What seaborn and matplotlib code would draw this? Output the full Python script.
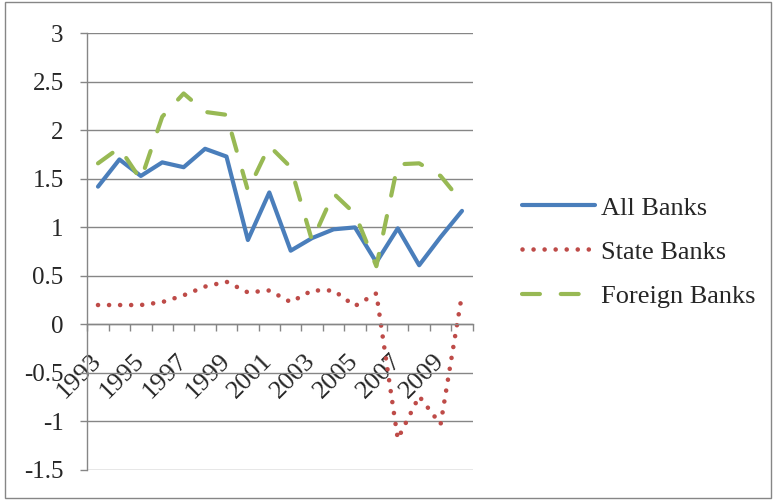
import numpy as np
import pandas as pd
import matplotlib
matplotlib.use("Agg")
import matplotlib.pyplot as plt
import seaborn as sns
from matplotlib.patches import Rectangle

# Series values by year
years = list(range(1993, 2011))
all_banks = [1.42, 1.70, 1.53, 1.67, 1.62, 1.81, 1.73, 0.87, 1.36, 0.76,
             0.89, 0.98, 1.00, 0.64, 0.99, 0.61, 0.90, 1.17]
state_banks = [0.20, 0.20, 0.20, 0.23, 0.30, 0.39, 0.44, 0.33, 0.35, 0.23,
               0.35, 0.35, 0.19, 0.32, -1.18, -0.74, -1.03, 0.31]
foreign_banks = [1.66, 1.82, 1.49, 2.14, 2.38, 2.19, 2.16, 1.38, 1.84, 1.62,
                 0.86, 1.35, 1.14, 0.60, 1.65, 1.66, 1.53, 1.26]
series_names = ["All Banks", "State Banks", "Foreign Banks"]
y_ticks = [-1.5, -1, -0.5, 0, 0.5, 1, 1.5, 2, 2.5, 3]
y_tick_labels = ["-1.5", "-1", "-0.5", "0", "0.5", "1", "1.5", "2", "2.5", "3"]
year_labels = [str(y) if (y - 1993) % 2 == 0 and y < 2010 else "" for y in years]

sns.set_theme(style="white")
plt.rcParams["font.family"] = ["Liberation Serif", "DejaVu Serif"]
plt.rcParams["axes.unicode_minus"] = False

GRAY = "#868686"
BLUE = "#4A7EBB"
RED = "#BE4B48"
GREEN = "#98B954"

fig = plt.figure(figsize=(7.74, 5.0), dpi=100)
ax = fig.add_axes([87.3 / 774, 30 / 500, 385.4 / 774, 436.7 / 500])

pos = np.arange(len(years))
df = pd.DataFrame({"pos": pos, "All Banks": all_banks,
                   "State Banks": state_banks, "Foreign Banks": foreign_banks})

sns.lineplot(data=df, x="pos", y="All Banks", ax=ax, color=BLUE, lw=3,
             solid_capstyle="round", solid_joinstyle="round", label="All Banks")
sns.lineplot(data=df, x="pos", y="State Banks", ax=ax, color=RED, lw=3.3,
             linestyle=(0, (0.01, 2.4)), dash_capstyle="round", label="State Banks")
sns.lineplot(data=df, x="pos", y="Foreign Banks", ax=ax, color=GREEN, lw=3,
             linestyle=(0, (4.3, 5.0)), dash_capstyle="round", label="Foreign Banks")

ax.set_xlim(-0.5, len(years) - 0.5)
ax.set_ylim(-1.5, 3)
ax.set_xlabel("")
ax.set_ylabel("")

# horizontal gridlines
ax.yaxis.grid(True, color=GRAY, lw=1.0)
ax.xaxis.grid(False)
ax.set_axisbelow(True)

for side in ["top", "right"]:
    ax.spines[side].set_visible(False)
ax.spines["left"].set_color(GRAY)
ax.spines["left"].set_linewidth(1.0)
ax.spines["bottom"].set_color(GRAY)
ax.spines["bottom"].set_linewidth(1.0)
ax.spines["bottom"].set_position(("data", 0))

ax.set_yticks(y_ticks)
ax.set_yticklabels(y_tick_labels)
ax.tick_params(axis="y", which="major", length=5, width=1, color=GRAY,
               pad=12, labelsize=18, left=True, direction="out")

ax.set_xticks(pos)
ax.set_xticklabels(year_labels)
ax.set_xticks(np.arange(-0.5, len(years)), minor=True)
ax.tick_params(axis="x", which="major", length=0, pad=24, labelsize=19, bottom=True)
ax.tick_params(axis="x", which="minor", length=5, width=1, color=GRAY,
               bottom=True, direction="out")
for lbl in ax.get_xticklabels():
    lbl.set_rotation(45)
    lbl.set_ha("right")
    lbl.set_va("center")
    lbl.set_rotation_mode("anchor")

ax.get_legend().remove()
handles, labels = ax.get_legend_handles_labels()
fig.legend(handles, labels, loc="center left",
           bbox_to_anchor=(522 / 774, 1 - 252 / 500), frameon=False,
           fontsize=19, handlelength=2.75, handletextpad=0.25,
           labelspacing=0.78, borderpad=0, borderaxespad=0)

# chart area border
fig.patches.append(Rectangle((5 / 774, 2 / 500), 766 / 774, 496 / 500,
                             transform=fig.transFigure, fill=False,
                             ec=GRAY, lw=1))

fig.savefig("out.png", dpi=100)
